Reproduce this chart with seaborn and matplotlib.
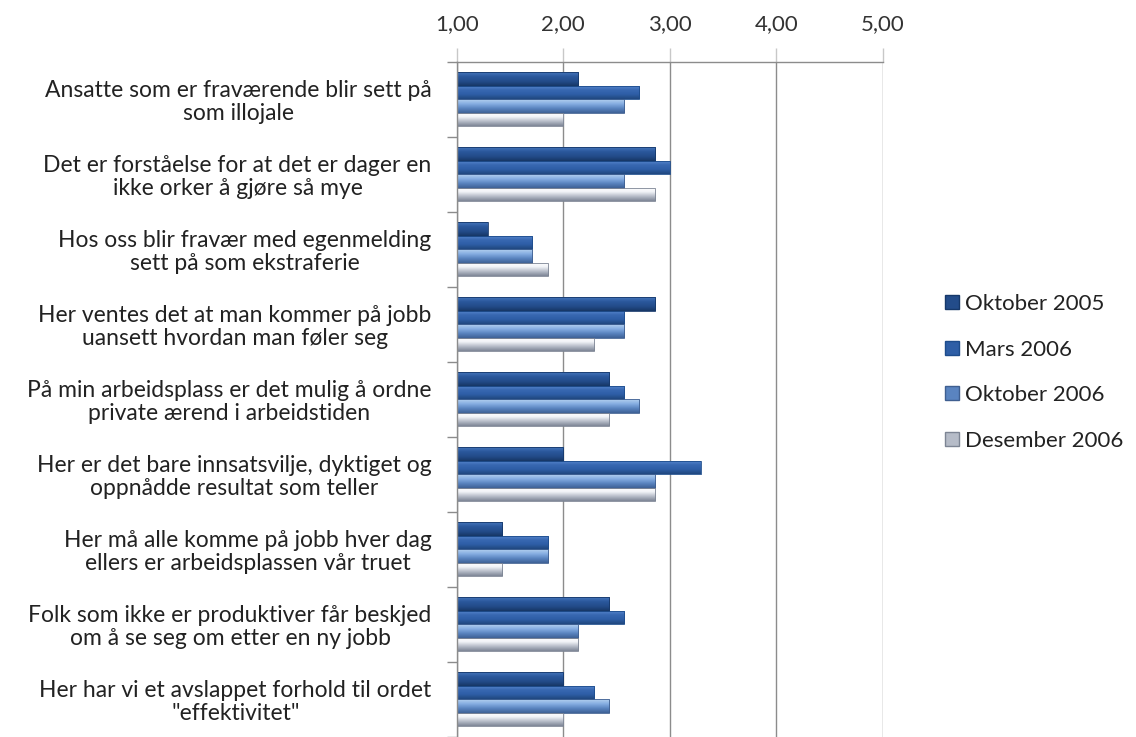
import numpy as np
import pandas as pd
import seaborn as sns
import matplotlib
matplotlib.use("Agg")
import matplotlib.pyplot as plt
from matplotlib.colors import to_rgb
from matplotlib.ticker import FixedLocator, FuncFormatter

categories = [
    "Ansatte som er fraværende blir sett på\nsom illojale",
    "Det er forståelse for at det er dager en\nikke orker å gjøre så mye",
    "Hos oss blir fravær med egenmelding\nsett på som ekstraferie",
    "Her ventes det at man kommer på jobb\nuansett hvordan man føler seg",
    "På min arbeidsplass er det mulig å ordne\nprivate ærend i arbeidstiden",
    "Her er det bare innsatsvilje, dyktiget og\noppnådde resultat som teller",
    "Her må alle komme på jobb hver dag\nellers er arbeidsplassen vår truet",
    "Folk som ikke er produktiver får beskjed\nom å se seg om etter en ny jobb",
    "Her har vi et avslappet forhold til ordet\n\"effektivitet\"",
]
series = ["Oktober 2005", "Mars 2006", "Oktober 2006", "Desember 2006"]
okt_2005 = [2.14, 2.86, 1.29, 2.86, 2.43, 2.00, 1.43, 2.43, 2.00]
mars_2006 = [2.71, 3.00, 1.71, 2.57, 2.57, 3.29, 1.86, 2.57, 2.29]
okt_2006 = [2.57, 2.57, 1.71, 2.57, 2.71, 2.86, 1.86, 2.14, 2.43]
des_2006 = [2.00, 2.86, 1.86, 2.29, 2.43, 2.86, 1.43, 2.14, 2.00]
x_ticks = [1.0, 2.0, 3.0, 4.0, 5.0]

colors = ["#24508F", "#2F63AE", "#6A93CF", "#D9DFEA"]
edges = ["#16386A", "#1D4C8C", "#3F5F90", "#7D8594"]
# vertical gradient stops (top -> bottom) for the glossy look
gradients = [
    ["#4474BA", "#2A579B", "#234C8A", "#173766"],
    ["#5A8AD0", "#3868B2", "#2E5EA6", "#20487F"],
    ["#B4D0F0", "#86AEE2", "#5A84C0", "#3E6296"],
    ["#FFFFFF", "#F2F4F8", "#B6BCC8", "#7E8696"],
]

rows = []
for s, vals in zip(series, [okt_2005, mars_2006, okt_2006, des_2006]):
    for c, v in zip(categories, vals):
        rows.append({"kategori": c, "serie": s, "verdi": v})
df = pd.DataFrame(rows)

sns.set_theme(style="white")
plt.rcParams["font.family"] = ["Lato", "DejaVu Sans"]

fig = plt.figure(figsize=(11.36, 7.37), dpi=100)
ax = fig.add_axes([0.402, 0.0, 0.375, 0.916])

sns.barplot(data=df, y="kategori", x="verdi", hue="serie", order=categories,
            hue_order=series, palette=colors, orient="h", width=0.72,
            ax=ax, errorbar=None, saturation=1)


def make_grad(stops, n=40):
    rgb = np.array([to_rgb(c) for c in stops])
    pos = np.linspace(0, 1, len(stops))
    t = np.linspace(0, 1, n)
    arr = np.stack([np.interp(t, pos, rgb[:, k]) for k in range(3)], axis=1)
    return arr[:, None, :]


for i, cont in enumerate(ax.containers):
    grad = make_grad(gradients[i])
    for p in cont:
        x0 = p.get_x()
        w = p.get_width()
        p.set_x(1.0)
        p.set_width(x0 + w - 1.0)
        p.set_edgecolor(edges[i])
        p.set_linewidth(0.6)
        bx0, by0 = p.get_x(), p.get_y()
        bw, bh = p.get_width(), p.get_height()
        im = ax.imshow(grad, extent=(bx0, bx0 + bw, by0 + bh, by0),
                       origin="upper", aspect="auto", interpolation="bilinear",
                       zorder=p.get_zorder() + 0.1)
        im.set_clip_path(p)
        p.set_facecolor("none")
        p.set_zorder(p.get_zorder() + 0.2)

ax.set_xlim(1.0, 5.0)
ax.set_ylim(len(categories) - 0.5, -0.5)
ax.xaxis.set_major_locator(FixedLocator(x_ticks))
ax.xaxis.set_major_formatter(FuncFormatter(lambda v, _: f"{v:.2f}".replace(".", ",")))
ax.xaxis.tick_top()
ax.xaxis.set_label_position("top")
ax.tick_params(axis="x", which="major", top=True, length=10, width=1, color="#C8C8C8",
               pad=10, labelsize=16, colors="#333333")
ax.tick_params(axis="x", which="major", labelcolor="#333333")
ax.grid(axis="x", color="#8C8C8C", linewidth=1.0)
ax.set_axisbelow(True)

ax.tick_params(axis="y", which="major", length=0, pad=18, labelsize=16.5, labelcolor="#222222")
for lbl in ax.get_yticklabels():
    lbl.set_multialignment("center")
    lbl.set_linespacing(1.1)
ax.yaxis.set_minor_locator(FixedLocator(np.arange(-0.5, len(categories), 1.0)))
ax.tick_params(axis="y", which="minor", left=True, length=7, width=1, color="#8C8C8C")

for side in ["right", "bottom"]:
    ax.spines[side].set_visible(False)
for side in ["left", "top"]:
    ax.spines[side].set_color("#8C8C8C")
    ax.spines[side].set_linewidth(1.0)

ax.set_xlabel("")
ax.set_ylabel("")

handles, labels = ax.get_legend_handles_labels()
for h, stops, e in zip(handles, gradients, edges):
    h.set_facecolor(stops[2])
    h.set_edgecolor(e)
ax.legend(handles, labels, loc="center left", bbox_to_anchor=(1.1, 0.54),
          frameon=False, fontsize=16, labelspacing=1.15, handlelength=0.6,
          handleheight=0.6, handletextpad=0.3, labelcolor="#222222")

fig.savefig("out.png", dpi=100)
